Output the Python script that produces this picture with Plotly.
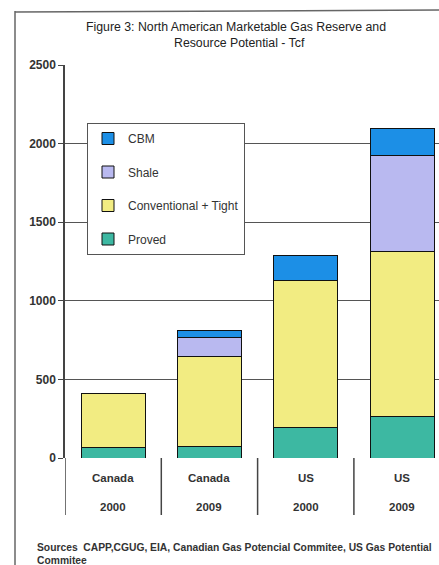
import plotly.graph_objects as go

categories = ["Canada 2000", "Canada 2009", "US 2000", "US 2009"]
cat_country = ["Canada", "Canada", "US", "US"]
cat_year = ["2000", "2009", "2000", "2009"]
proved = [65, 75, 197, 262]
conventional_tight = [345, 568, 930, 1050]
shale = [0, 122, 0, 615]
cbm = [0, 43, 164, 170]
y_ticks = [0, 500, 1000, 1500, 2000, 2500]

W, H = 439, 565
L, R, T, B = 65, 0, 65, 107
PW, PH = W - L - R, H - T - B

def px_x(px):
    return (px - L) / PW

def px_y(py):
    return (H - B - py) / PH

FONT = "Liberation Sans, Arial, sans-serif"
line_style = dict(color="#111111", width=1)

fig = go.Figure()
series = [
    ("Proved", proved, "#3DB8A2", 4),
    ("Conventional + Tight", conventional_tight, "#F2EC82", 3),
    ("Shale", shale, "#B9B9F0", 2),
    ("CBM", cbm, "#1C8FE6", 1),
]
for i, (name, vals, col, rank) in enumerate(series):
    fig.add_trace(go.Bar(
        x=categories, y=vals, name=name,
        marker=dict(color=col, line=line_style),
        width=0.665, legendgroup=f"g{i}", legendrank=rank,
    ))

annotations = []
# title
annotations.append(dict(text="Figure 3: North American Marketable Gas Reserve and",
                        x=px_x(236), y=px_y(27), xref="paper", yref="paper",
                        showarrow=False, xanchor="center", yanchor="middle",
                        font=dict(family=FONT, size=12.3, color="#222222")))
annotations.append(dict(text="Resource Potential - Tcf",
                        x=px_x(239), y=px_y(43), xref="paper", yref="paper",
                        showarrow=False, xanchor="center", yanchor="middle",
                        font=dict(family=FONT, size=12.3, color="#222222")))
# category labels
for i, c in enumerate(categories):
    annotations.append(dict(text=f"<b>{cat_country[i]}</b>", x=c, y=px_y(478),
                            xref="x", yref="paper", showarrow=False,
                            yanchor="middle", font=dict(family=FONT, size=11.5, color="#333333")))
    annotations.append(dict(text=f"<b>{cat_year[i]}</b>", x=c, y=px_y(507),
                            xref="x", yref="paper", showarrow=False,
                            yanchor="middle", font=dict(family=FONT, size=11.5, color="#333333")))
# sources
annotations.append(dict(text="<b>Sources  CAPP,CGUG, EIA, Canadian Gas Potencial Commitee, US Gas Potential</b><br><b>Commitee</b>",
                        x=px_x(35), y=px_y(540), xref="paper", yref="paper",
                        showarrow=False, xanchor="left", yanchor="top", align="left",
                        font=dict(family=FONT, size=10.3, color="#333333")))

shapes = []
# category dividers below axis
for xv in [-0.5, 0.5, 1.5, 2.5]:
    shapes.append(dict(type="line", xref="x", yref="paper", x0=xv, x1=xv,
                       y0=0, y1=px_y(515), line=dict(color="#444444", width=1.5)))
# outer scanned frame
shapes.append(dict(type="line", xref="paper", yref="paper",
                   x0=px_x(15), x1=px_x(445), y0=px_y(12), y1=px_y(10),
                   line=dict(color="#666666", width=1.5)))
shapes.append(dict(type="line", xref="paper", yref="paper",
                   x0=px_x(15), x1=px_x(15), y0=px_y(11), y1=px_y(570),
                   line=dict(color="#666666", width=1.5)))

fig.update_layout(
    width=W, height=H,
    margin=dict(l=L, r=R, t=T, b=B, pad=0),
    barmode="stack",
    paper_bgcolor="white", plot_bgcolor="white",
    showlegend=True,
    legend=dict(x=px_x(87), y=px_y(123), xanchor="left", yanchor="top",
                bgcolor="white", bordercolor="#555555", borderwidth=1,
                traceorder="grouped", tracegroupgap=14.5,
                font=dict(family=FONT, size=12, color="#333333")),
    xaxis=dict(range=[-0.5, -0.5 + PW / 96.3], showticklabels=False,
               showgrid=False, zeroline=False, showline=False, ticks=""),
    yaxis=dict(range=[0, 2500], tickvals=y_ticks,
               ticktext=[f"<b>{v}</b>" for v in y_ticks],
               showgrid=True, gridcolor="#555555", gridwidth=1.2,
               zeroline=False, showline=True, linecolor="#444444", linewidth=1.5,
               ticks="outside", ticklen=5, tickcolor="#444444", tickwidth=1.2,
               tickfont=dict(family=FONT, size=12, color="#333333")),
    annotations=annotations,
    shapes=shapes,
)

fig.write_html("out.html")
